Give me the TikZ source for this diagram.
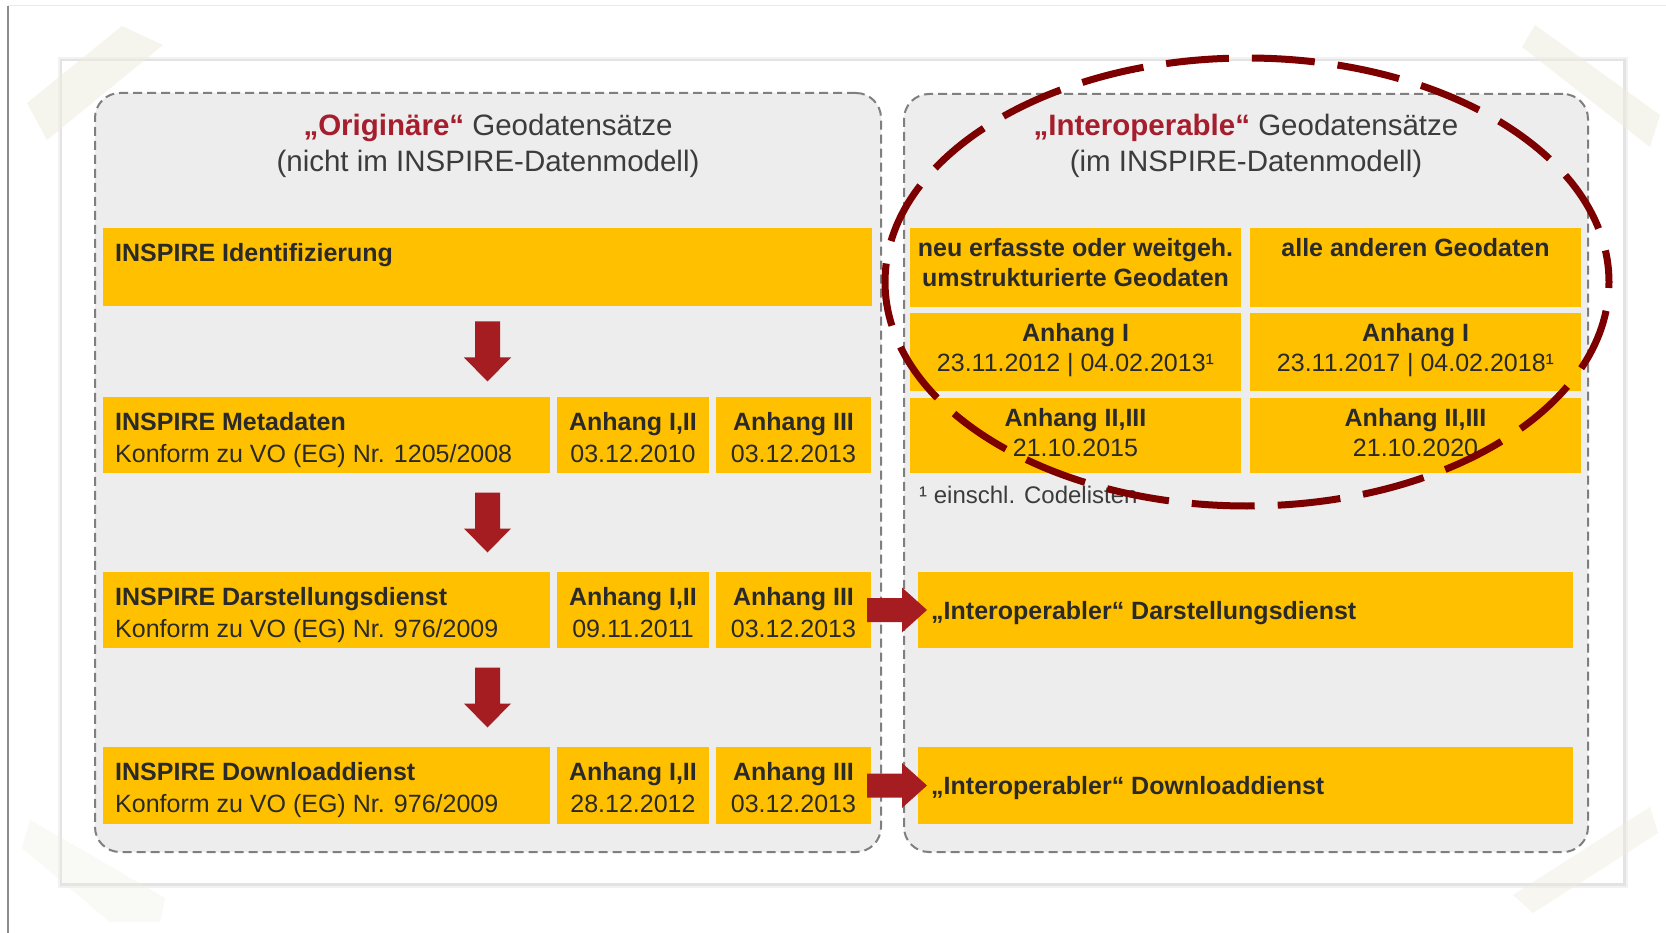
\documentclass[tikz,border=0pt]{standalone}
\usepackage{fontspec}
\setmainfont{Liberation Sans}
\usetikzlibrary{calc}
\definecolor{gold}{HTML}{FFC000}
\definecolor{panelgray}{HTML}{EDEDED}
\definecolor{dashgray}{HTML}{7F7F7F}
\definecolor{arrowred}{HTML}{A51C21}
\definecolor{ellred}{HTML}{7D0000}
\definecolor{titlered}{HTML}{A61E2D}
\definecolor{titlegray}{HTML}{3C3C3C}
\definecolor{txt}{HTML}{2A2A2A}
\definecolor{tape}{HTML}{EEECDF}
\begin{document}
\begin{tikzpicture}[x=1pt,y=-1pt,
  panel/.style={draw=dashgray, fill=panelgray, line width=2pt, dash pattern=on 9pt off 5pt, rounded corners=25pt, inner sep=0pt, outer sep=0pt, anchor=north west},
  ybox/.style={fill=gold, inner sep=0pt, outer sep=0pt, anchor=north west},
  ltxt/.style={anchor=base west, inner sep=0pt, align=left, font=\fontsize{25}{32}\selectfont, text=txt},
  ctxtl/.style={anchor=base, inner sep=0pt, align=center, font=\fontsize{25}{32}\selectfont, text=txt},
  ctxt/.style={anchor=base, inner sep=0pt, align=center, font=\fontsize{25}{30}\selectfont, text=txt},
  titletxt/.style={anchor=base, inner sep=0pt, align=center, font=\fontsize{29.5}{36}\selectfont, text=titlegray},
  downarrow/.pic={\fill[arrowred] (-12.5,-30) -- (12.5,-30) -- (12.5,6) -- (23.5,6) -- (0,30) -- (-23.5,6) -- (-12.5,6) -- cycle;},
  rightarrow/.pic={\fill[arrowred] (-27.5,-12) -- (7.5,-12) -- (7.5,-22.5) -- (32.5,0) -- (7.5,22.5) -- (7.5,12) -- (-27.5,12) -- cycle;}
]
\useasboundingbox (0,0) rectangle (1666,933);
\fill[white] (0,0) rectangle (1666,933);
% outer frame lines
\draw[black!45, line width=1.5pt] (8,6) -- (8,933);
\draw[black!8, line width=1pt] (8,6) -- (1666,6);
% paper with shadow
\fill[black!5] (58,57) rectangle (1628,888);
\fill[black!11] (60,59) rectangle (1626,886);
\fill[white] (62,61) rectangle (1623,883);
% tapes
\fill[tape, opacity=0.55] (27,103) -- (122,26) -- (163,45) -- (47,140) -- cycle;
\fill[tape, opacity=0.55] (1522,47) -- (1535,25) -- (1660,115) -- (1650,147) -- cycle;
\fill[tape, opacity=0.3] (22,848) -- (30,820) -- (165,898) -- (160,922) -- (110,922) -- cycle;
\fill[tape, opacity=0.45] (1513,895) -- (1650,807) -- (1658,833) -- (1533,913) -- cycle;

% panels
\node[panel, minimum width=786pt, minimum height=759pt] (lp) at (95,93) {};
\node[panel, minimum width=684pt, minimum height=758pt] (rp) at (904,94) {};

% titles (base anchor = last line)
\node[titletxt] (ltitle) at (488,172) {\textbf{\textcolor{titlered}{„Originäre“}} Geodatensätze\\(nicht im INSPIRE-Datenmodell)};
\node[titletxt] (rtitle) at (1246,172) {\textbf{\textcolor{titlered}{„Interoperable“}} Geodatensätze\\(im INSPIRE-Datenmodell)};

% left boxes
\node[ybox, minimum width=769pt, minimum height=78pt] (id) at (103,228) {};
\node[ybox, minimum width=447pt, minimum height=76pt] (meta) at (103,397) {};
\node[ybox, minimum width=152pt, minimum height=76pt] (metaA) at (557,397) {};
\node[ybox, minimum width=155pt, minimum height=76pt] (metaB) at (716,397) {};
\node[ybox, minimum width=447pt, minimum height=76pt] (darst) at (103,572) {};
\node[ybox, minimum width=152pt, minimum height=76pt] (darstA) at (557,572) {};
\node[ybox, minimum width=155pt, minimum height=76pt] (darstB) at (716,572) {};
\node[ybox, minimum width=447pt, minimum height=77pt] (down) at (103,747) {};
\node[ybox, minimum width=152pt, minimum height=77pt] (downA) at (557,747) {};
\node[ybox, minimum width=155pt, minimum height=77pt] (downB) at (716,747) {};

\node[ltxt] (tid) at ($(id.north west)+(12,34)$) {\textbf{INSPIRE Identifizierung}};
\node[ltxt] (tmeta) at ($(meta.north west)+(12,65)$) {\textbf{INSPIRE Metadaten}\\Konform zu VO (EG) Nr. 1205/2008};
\node[ctxtl] (tmetaA) at ($(metaA.north)+(0,65)$) {\textbf{Anhang I,II}\\03.12.2010};
\node[ctxtl] (tmetaB) at ($(metaB.north)+(0,65)$) {\textbf{Anhang III}\\03.12.2013};
\node[ltxt] (tdarst) at ($(darst.north west)+(12,65)$) {\textbf{INSPIRE Darstellungsdienst}\\Konform zu VO (EG) Nr. 976/2009};
\node[ctxtl] (tdarstA) at ($(darstA.north)+(0,65)$) {\textbf{Anhang I,II}\\09.11.2011};
\node[ctxtl] (tdarstB) at ($(darstB.north)+(0,65)$) {\textbf{Anhang III}\\03.12.2013};
\node[ltxt] (tdown) at ($(down.north west)+(12,65)$) {\textbf{INSPIRE Downloaddienst}\\Konform zu VO (EG) Nr. 976/2009};
\node[ctxtl] (tdownA) at ($(downA.north)+(0,65)$) {\textbf{Anhang I,II}\\28.12.2012};
\node[ctxtl] (tdownB) at ($(downB.north)+(0,65)$) {\textbf{Anhang III}\\03.12.2013};

% right boxes
\node[ybox, minimum width=331pt, minimum height=79pt] (neu) at (910,228) {};
\node[ybox, minimum width=331pt, minimum height=79pt] (alle) at (1250,228) {};
\node[ybox, minimum width=331pt, minimum height=78pt] (aIa) at (910,313) {};
\node[ybox, minimum width=331pt, minimum height=78pt] (aIb) at (1250,313) {};
\node[ybox, minimum width=331pt, minimum height=75pt] (aIIa) at (910,398) {};
\node[ybox, minimum width=331pt, minimum height=75pt] (aIIb) at (1250,398) {};
\node[ybox, minimum width=655pt, minimum height=76pt] (idarst) at (918,572) {};
\node[ybox, minimum width=655pt, minimum height=77pt] (idown) at (918,747) {};

\node[ctxt] (tneu) at ($(neu.north)+(0,59)$) {\textbf{neu erfasste oder weitgeh.}\\\textbf{umstrukturierte Geodaten}};
\node[ctxt] (talle) at ($(alle.north)+(0,29)$) {\textbf{alle anderen Geodaten}};
\node[ctxt] (taIa) at ($(aIa.north)+(0,59)$) {\textbf{Anhang I}\\23.11.2012 | 04.02.2013¹};
\node[ctxt] (taIb) at ($(aIb.north)+(0,59)$) {\textbf{Anhang I}\\23.11.2017 | 04.02.2018¹};
\node[ctxt] (taIIa) at ($(aIIa.north)+(0,58)$) {\textbf{Anhang II,III}\\21.10.2015};
\node[ctxt] (taIIb) at ($(aIIb.north)+(0,58)$) {\textbf{Anhang II,III}\\21.10.2020};
\node[ltxt, font=\fontsize{24}{28}\selectfont, text=titlegray] (fn) at (919,503) {¹ einschl. Codelisten};
\node[ltxt] (tidarst) at ($(idarst.west)+(13,9)$) {\textbf{„Interoperabler“ Darstellungsdienst}};
\node[ltxt] (tidown) at ($(idown.west)+(13,9)$) {\textbf{„Interoperabler“ Downloaddienst}};

% down arrows
\pic at ($(id.south)!0.5!(id.south |- meta.north)$) {downarrow};
\pic at ($(id.south |- meta.south)!0.5!(id.south |- darst.north)$) {downarrow};
\pic at ($(id.south |- darst.south)!0.5!(id.south |- down.north)$) {downarrow};
% right arrows
\pic at ($(darstB.east)!0.5!(idarst.west)$) {rightarrow};
\pic at ($(downB.east)!0.5!(idown.west)$) {rightarrow};

% highlight ellipse
\draw[ellred, line width=7pt, dash pattern=on 63pt off 23pt, dash phase=57pt] (1247,282) ellipse [x radius=362, y radius=224];
\end{tikzpicture}
\end{document}
